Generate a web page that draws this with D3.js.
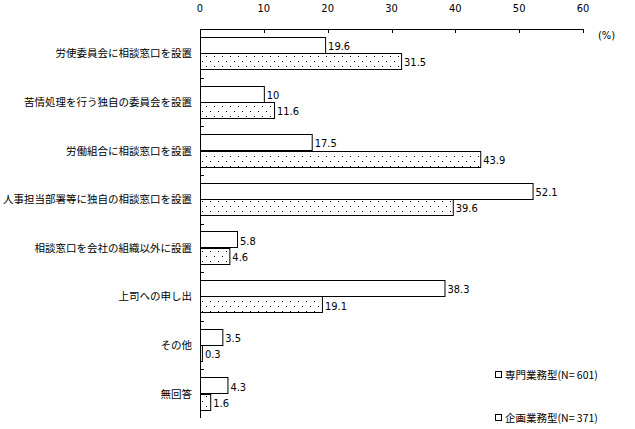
<!DOCTYPE html>
<html>
<head>
<meta charset="utf-8">
<style>
  body { margin: 0; background: #fff; }
  text { fill: #000; }
  .num { font-family: "DejaVu Sans Condensed", "DejaVu Sans", sans-serif; font-stretch: condensed; font-size: 11px; }
  .jp { font-family: "Noto Sans CJK JP", sans-serif; font-size: 10.5px; }
</style>
</head>
<body>
<svg width="635" height="429"></svg>
<script src="https://d3js.org/d3.v7.min.js"></script>
<script>
    var categories = [
        "労使委員会に相談窓口を設置",
        "苦情処理を行う独自の委員会を設置",
        "労働組合に相談窓口を設置",
        "人事担当部署等に独自の相談窓口を設置",
        "相談窓口を会社の組織以外に設置",
        "上司への申し出",
        "その他",
        "無回答"
    ];
    var senmon = [19.6, 10, 17.5, 52.1, 5.8, 38.3, 3.5, 4.3];
    var kikaku = [31.5, 11.6, 43.9, 39.6, 4.6, 19.1, 0.3, 1.6];
    var seriesNames = ["専門業務型(N= 601)", "企画業務型(N= 371)"];
    var xTicks = [0, 10, 20, 30, 40, 50, 60];

    var svg = d3.select("svg");
    var plotL = 200, plotR = 583, plotT = 29, plotB = 418;

    // dotted fill for the second series
    var defs = svg.append("defs");
    var pat = defs.append("pattern")
        .attr("id", "dots")
        .attr("patternUnits", "userSpaceOnUse")
        .attr("width", 8)
        .attr("height", 10);
    pat.append("rect").attr("width", 8).attr("height", 10).attr("fill", "#fff");
    pat.append("rect").attr("x", 2).attr("y", 1).attr("width", 1).attr("height", 1).attr("fill", "#000");
    pat.append("rect").attr("x", 6).attr("y", 6).attr("width", 1).attr("height", 1).attr("fill", "#000");

    var x = d3.scaleLinear().domain([0, 60]).range([plotL, plotR]);
    var y = d3.scaleBand().domain(categories).range([plotT, plotB]);
    var inner = d3.scaleBand().domain([0, 1]).range([0, y.bandwidth()]).paddingOuter(0.49).paddingInner(0);

    // top axis
    svg.append("line")
        .attr("x1", plotL).attr("x2", plotR)
        .attr("y1", plotT + 0.5).attr("y2", plotT + 0.5)
        .attr("stroke", "#000");
    svg.selectAll(".xtick").data(xTicks).enter().append("line")
        .attr("x1", function(d) { return Math.round(x(d)) + 0.5; })
        .attr("x2", function(d) { return Math.round(x(d)) + 0.5; })
        .attr("y1", plotT).attr("y2", plotT + 4)
        .attr("stroke", "#000");
    svg.selectAll(".xlab").data(xTicks).enter().append("text")
        .attr("class", "num")
        .attr("x", function(d) { return x(d); })
        .attr("y", 12)
        .attr("text-anchor", "middle")
        .text(function(d) { return d; });
    svg.append("text")
        .attr("class", "num")
        .attr("x", 598).attr("y", 39)
        .text("(%)");

    // left axis
    svg.append("line")
        .attr("x1", plotL + 0.5).attr("x2", plotL + 0.5)
        .attr("y1", plotT).attr("y2", plotB)
        .attr("stroke", "#000");
    svg.selectAll(".ytick").data(categories.slice(1)).enter().append("line")
        .attr("x1", plotL).attr("x2", plotL + 4)
        .attr("y1", function(d) { return Math.round(y(d)) + 0.5; })
        .attr("y2", function(d) { return Math.round(y(d)) + 0.5; })
        .attr("stroke", "#000");
    svg.selectAll(".ylab").data(categories).enter().append("text")
        .attr("class", "jp")
        .attr("x", 192)
        .attr("y", function(d) { return y(d) + y.bandwidth() / 2 + 4; })
        .attr("text-anchor", "end")
        .text(function(d) { return d; });

    // bars
    var series = [senmon, kikaku];
    series.forEach(function(vals, s) {
        var g = svg.append("g");
        g.selectAll("rect").data(vals).enter().append("rect")
            .attr("x", plotL + 0.5)
            .attr("y", function(d, i) { return Math.round(y(categories[i]) + inner(s)) + 0.5; })
            .attr("width", function(d) { return x(d) - plotL; })
            .attr("height", Math.round(inner.bandwidth()))
            .attr("fill", s == 0 ? "#fff" : "url(#dots)")
            .attr("stroke", "#000");
        g.selectAll("text").data(vals).enter().append("text")
            .attr("class", "num")
            .attr("x", function(d) { return x(d) + 3; })
            .attr("y", function(d, i) { return y(categories[i]) + inner(s) + inner.bandwidth() / 2 + 5; })
            .text(function(d) { return d; });
    });

    // legend
    var legend = svg.selectAll(".legend").data(seriesNames).enter().append("g")
        .attr("transform", function(d, i) { return "translate(495," + (375 + i * 43) + ")"; });
    legend.append("rect")
        .attr("x", 0.5).attr("y", -3.5)
        .attr("width", 6).attr("height", 6)
        .attr("fill", "#fff").attr("stroke", "#000");
    legend.append("text")
        .attr("class", "jp")
        .attr("x", 10).attr("y", 4)
        .text(function(d) { return d; });
</script>
</body>
</html>
